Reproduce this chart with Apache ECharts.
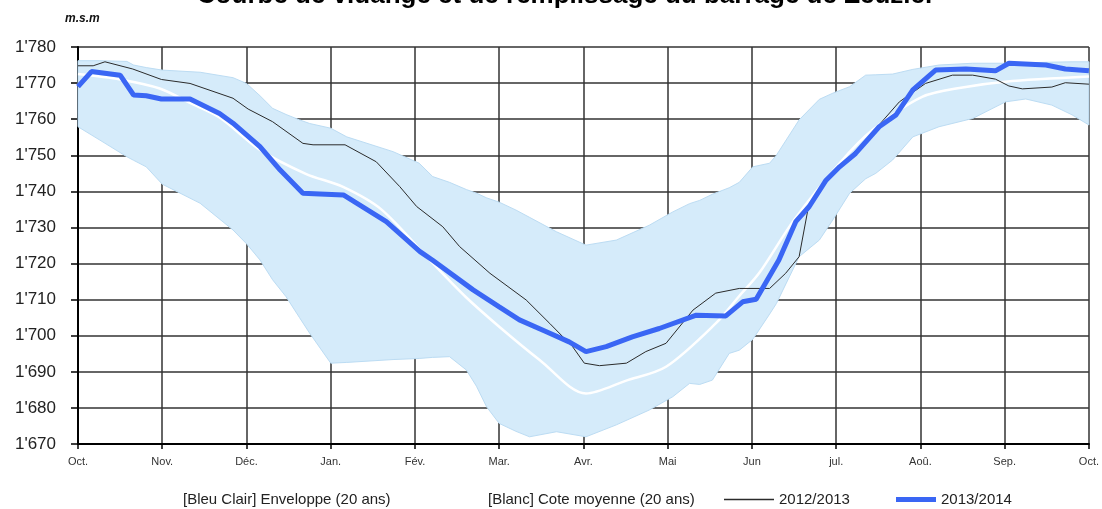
<!DOCTYPE html>
<html>
<head>
<meta charset="utf-8">
<script src="https://cdn.jsdelivr.net/npm/echarts@6/dist/echarts.min.js"></script>
<style>
  html, body { margin: 0; padding: 0; background: #fff; }
  #chart { width: 1102px; height: 509px; }
</style>
</head>
<body>
<div id="chart"></div>
<script>
// mois (axe X, en mois depuis le 1er octobre)
const months = ['Oct.', 'Nov.', 'Déc.', 'Jan.', 'Fév.', 'Mar.', 'Avr.', 'Mai', 'Jun', 'jul.', 'Aoû.', 'Sep.', 'Oct.'];

// enveloppe 20 ans (bleu clair)
const envX = [0, 0.26, 0.58, 0.66, 0.81, 1.0, 1.45, 1.84, 2.0, 2.16, 2.31, 2.47, 2.63, 2.75, 3.0, 3.19, 3.74, 4.05, 4.21, 4.41, 4.61, 4.73, 4.85, 5.0, 5.2, 5.36, 5.68, 6.03, 6.39, 6.78, 7.06, 7.26, 7.38, 7.53, 7.73, 7.85, 8.01, 8.21, 8.29, 8.56, 8.8, 8.96, 9.16, 9.35, 9.47, 9.67, 9.91, 10.22, 10.62, 11.01, 11.25, 11.56, 11.8, 12];
const envLow = [1757.9, 1754.2, 1749.6, 1748.6, 1746.8, 1742.0, 1736.7, 1729.3, 1725.5, 1721.0, 1715.5, 1710.8, 1705.0, 1700.7, 1692.4, 1692.6, 1693.4, 1693.7, 1694.0, 1694.2, 1690.5, 1686.0, 1680.3, 1675.7, 1673.5, 1672.0, 1673.4, 1672.0, 1675.3, 1679.4, 1683.1, 1686.8, 1686.5, 1687.7, 1695.1, 1696.0, 1699.0, 1706.0, 1708.9, 1721.9, 1726.5, 1732.1, 1739.5, 1743.5, 1745.0, 1748.7, 1755.1, 1757.9, 1760.2, 1764.8, 1765.6, 1763.9, 1761.2, 1758.4];
const envHigh = [1776.2, 1776.2, 1776.0, 1775.0, 1774.3, 1773.6, 1773.0, 1771.5, 1769.9, 1766.5, 1763.0, 1761.3, 1759.8, 1758.8, 1757.5, 1755.1, 1751.0, 1747.8, 1744.1, 1742.5, 1740.5, 1739.5, 1738.2, 1737.0, 1734.8, 1732.8, 1728.8, 1725.1, 1726.5, 1730.6, 1734.3, 1736.6, 1737.5, 1739.2, 1741.0, 1742.5, 1746.8, 1747.8, 1750.0, 1759.8, 1765.5, 1767.2, 1769.0, 1772.2, 1772.3, 1772.5, 1773.8, 1775.0, 1775.5, 1775.5, 1775.6, 1775.8, 1775.9, 1775.9];

// cote moyenne 20 ans (blanc)
const meanX = [0, 0.5, 0.97, 1.33, 1.68, 2.16, 2.71, 3.14, 3.6, 4.21, 4.6, 5.0, 5.48, 6.03, 6.5, 6.98, 7.57, 7.85, 8.09, 8.5, 9.04, 9.43, 10.02, 10.5, 11.01, 12];
const meanVals = [1772.5, 1771.0, 1768.5, 1764.5, 1760.5, 1751.5, 1744.8, 1741.3, 1735.0, 1720.1, 1710.8, 1702.5, 1693.3, 1684.0, 1687.5, 1691.4, 1703.4, 1711.0, 1717.5, 1732.1, 1747.8, 1757.0, 1766.2, 1768.8, 1770.4, 1771.8];

// 2012/2013
const x1213 = [0, 0.18, 0.32, 0.65, 0.99, 1.33, 1.84, 2.02, 2.31, 2.67, 2.79, 3.17, 3.54, 3.82, 4.02, 4.33, 4.53, 4.89, 5.32, 5.6, 5.87, 6.01, 6.19, 6.51, 6.74, 6.98, 7.3, 7.57, 7.85, 8.21, 8.4, 8.56, 8.66, 8.88, 9.35, 9.75, 10.06, 10.38, 10.62, 10.89, 11.05, 11.21, 11.56, 11.72, 12];
const v1213 = [1774.8, 1774.8, 1775.9, 1773.9, 1771.0, 1769.9, 1765.8, 1762.8, 1759.3, 1753.3, 1752.9, 1752.9, 1748.2, 1741.3, 1735.8, 1730.2, 1724.7, 1717.3, 1709.9, 1703.4, 1697.0, 1692.4, 1691.7, 1692.4, 1695.6, 1697.9, 1707.1, 1711.8, 1713.1, 1713.1, 1717.3, 1721.9, 1734.4, 1742.8, 1754.2, 1764.8, 1769.9, 1772.2, 1772.2, 1771.1, 1769.2, 1768.4, 1768.9, 1770.1, 1769.7];

// 2013/2014
const x1314 = [0, 0.16, 0.5, 0.66, 0.81, 0.99, 1.33, 1.68, 1.84, 2.16, 2.4, 2.67, 2.87, 3.15, 3.66, 4.06, 4.21, 4.69, 5.0, 5.24, 5.56, 5.83, 6.03, 6.27, 6.58, 6.9, 7.34, 7.69, 7.89, 8.05, 8.32, 8.52, 8.68, 8.88, 9.04, 9.23, 9.51, 9.71, 9.91, 10.18, 10.54, 10.89, 11.05, 11.49, 11.72, 12];
const v1314 = [1769.0, 1773.2, 1772.2, 1766.7, 1766.5, 1765.6, 1765.6, 1761.6, 1758.9, 1752.4, 1745.9, 1739.5, 1739.3, 1739.0, 1731.6, 1723.3, 1720.9, 1712.7, 1708.0, 1704.4, 1701.1, 1698.3, 1695.6, 1697.0, 1699.7, 1702.0, 1705.7, 1705.5, 1709.4, 1710.1, 1721.0, 1731.6, 1735.8, 1743.1, 1746.8, 1750.5, 1757.9, 1761.2, 1768.1, 1773.6, 1773.9, 1773.4, 1775.5, 1775.0, 1773.9, 1773.4];

const zip = (xs, ys) => xs.map((x, i) => [x, ys[i]]);
const fontFam = '"Liberation Sans", Arial, sans-serif';
const legendText = { fontSize: 15, fontFamily: fontFam, color: '#222' };

const chart = echarts.init(document.getElementById('chart'));
chart.setOption({
    animation: false,
    backgroundColor: '#fff',
    graphic: [
        {
            type: 'text', x: 566, y: -17,
            style: { text: 'Courbe de vidange et de remplissage du barrage de Zeuzier', fill: '#000',
                font: 'bold 26px ' + fontFam, textAlign: 'center', textVerticalAlign: 'top' }
        },
        {
            type: 'text', left: 65, top: 13,
            style: { text: 'm.s.m', fill: '#111', font: 'italic bold 12px ' + fontFam }
        }
    ],
    grid: { left: 78, right: 12, top: 47, bottom: 65 },
    legend: [
        { left: 178, top: 492, padding: 0, itemWidth: 0, data: [{ name: '[Bleu Clair] Enveloppe (20 ans)', icon: 'none' }], textStyle: legendText },
        { left: 483, top: 492, padding: 0, itemWidth: 0, data: [{ name: '[Blanc] Cote moyenne (20 ans)', icon: 'none' }], textStyle: legendText },
        { left: 724, top: 492, padding: 0, itemWidth: 50, itemHeight: 1.5, data: [{ name: '2012/2013', icon: 'rect' }], textStyle: legendText },
        { left: 896, top: 492, padding: 0, itemWidth: 40, itemHeight: 5, data: [{ name: '2013/2014', icon: 'rect' }], textStyle: legendText }
    ],
    xAxis: {
        type: 'value', min: 0, max: 12, interval: 1,
        axisLine: { lineStyle: { color: '#000', width: 2 } },
        axisTick: { show: true, length: 5, lineStyle: { color: '#000', width: 1.5 } },
        axisLabel: { margin: 12, fontSize: 11, fontFamily: fontFam, color: '#333', formatter: v => months[v] },
        splitLine: { show: true, lineStyle: { color: '#333', width: 1.5 } }
    },
    yAxis: {
        type: 'value', min: 1670, max: 1780, interval: 10,
        axisLine: { show: true, lineStyle: { color: '#000', width: 2 } },
        axisTick: { show: true, length: 7, lineStyle: { color: '#000', width: 1.5 } },
        axisLabel: { margin: 22, fontSize: 17, fontFamily: fontFam, color: '#222',
            formatter: v => String(v).replace(/(\d)(\d{3})$/, "$1'$2") },
        splitLine: { show: true, lineStyle: { color: '#333', width: 1.5 } }
    },
    series: [
        {
            // enveloppe : polygone haut + bas, via les échelles de l'axe
            name: '[Bleu Clair] Enveloppe (20 ans)', type: 'custom',
            data: [[0, envLow[0]]],
            itemStyle: { color: '#d5ebfa' },
            renderItem: (params, api) => {
                const top = envX.map((x, i) => api.coord([x, envHigh[i]]));
                const bottom = envX.map((x, i) => api.coord([x, envLow[i]])).reverse();
                return {
                    type: 'polygon',
                    shape: { points: top.concat(bottom) },
                    style: { fill: '#d5ebfa', stroke: '#bcdcf3', lineWidth: 1 }
                };
            }
        },
        {
            name: '[Blanc] Cote moyenne (20 ans)', type: 'line', symbol: 'none', smooth: 0.3,
            data: zip(meanX, meanVals),
            lineStyle: { color: '#fff', width: 2.5 },
            itemStyle: { color: '#fff' }
        },
        {
            name: '2012/2013', type: 'line', symbol: 'none',
            data: zip(x1213, v1213),
            lineStyle: { color: '#2b2b2b', width: 1 },
            itemStyle: { color: '#2b2b2b' }
        },
        {
            name: '2013/2014', type: 'line', symbol: 'none',
            data: zip(x1314, v1314),
            lineStyle: { color: '#3a66f4', width: 5 },
            itemStyle: { color: '#3a66f4' }
        }
    ]
});
</script>
</body>
</html>
